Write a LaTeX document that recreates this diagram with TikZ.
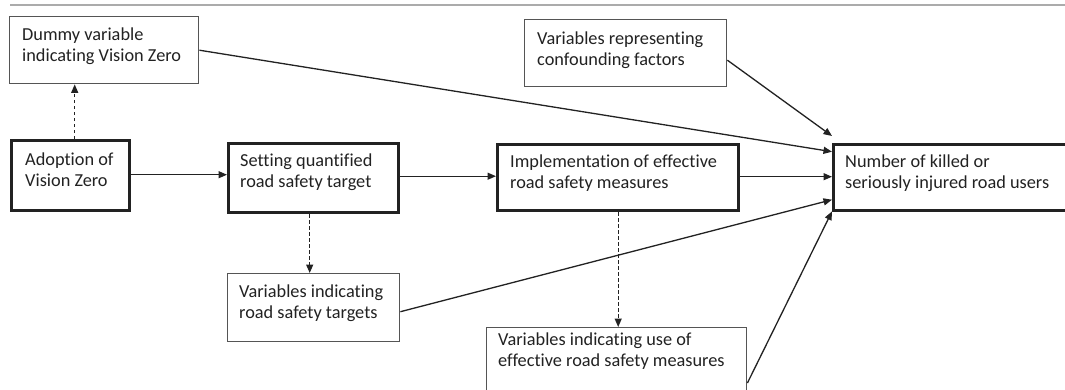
\documentclass[tikz,border=0pt]{standalone}
\usepackage{fontspec}
\setmainfont{Carlito}[Ligatures={NoCommon}]
\usetikzlibrary{arrows.meta,calc}
\definecolor{ink}{HTML}{222222}
\definecolor{thinline}{HTML}{555555}
\definecolor{rule}{HTML}{ABABAB}
\newcommand{\twolines}[2]{\vtop{\hbox{#1}\hbox{#2}}}
\tikzset{
  thinbox/.style={draw=thinline, line width=1.4pt, rectangle, inner sep=0pt, anchor=north west},
  thickbox/.style={draw=ink, line width=3.4pt, rectangle, inner sep=0pt, anchor=north west},
  lbl/.style={inner sep=0pt, anchor=base west, text=ink, font=\fontsize{18.3}{21.5}\selectfont},
  conn/.style={draw=ink, line width=1.3pt, -{Triangle[length=8.5pt,width=7pt]}},
  dconn/.style={conn, dash pattern=on 3.5pt off 2.5pt}
}
\begin{document}
\begin{tikzpicture}[x=1pt,y=-1pt]
\useasboundingbox (0,0) rectangle (1065,389);
\clip (0,0) rectangle (1065,389);
\fill[white] (0,0) rectangle (1065,389);
% top rule
\coordinate (ruleL) at (10,5);
\coordinate (ruleR) at (1070,5);
\draw[rule, line width=2pt] (ruleL) -- (ruleR);
% boxes
\node[thinbox, minimum width=189pt, minimum height=67pt] (dummy) at (9,16) {};
\node[thickbox, minimum width=118pt, minimum height=70pt] (adopt) at (10,139) {};
\node[thickbox, minimum width=170pt, minimum height=69pt] (setting) at (227,142) {};
\node[thickbox, minimum width=241pt, minimum height=66pt] (impl) at (496,143) {};
\node[thickbox, minimum width=260pt, minimum height=66pt] (number) at (832,143) {};
\node[thinbox, minimum width=202pt, minimum height=67pt] (confound) at (524,19) {};
\node[thinbox, minimum width=172pt, minimum height=68pt] (targets) at (227,273) {};
\node[thinbox, minimum width=260pt, minimum height=80pt] (use) at (486,327) {};
% labels
\node[lbl] (dummyT) at (22,40) {\twolines{Dummy variable}{indicating Vision Zero}};
\node[lbl] (adoptT) at (25,165) {\twolines{Adoption of}{Vision Zero}};
\node[lbl] (settingT) at (240,166) {\twolines{Setting quantified}{road safety target}};
\node[lbl] (implT) at (510,167) {\twolines{Implementation of effective}{road safety measures}};
\node[lbl] (numberT) at (845,167) {\twolines{Number of killed or}{seriously injured road users}};
\node[lbl] (confoundT) at (537,44) {\twolines{Variables representing}{confounding factors}};
\node[lbl] (targetsT) at (239,297) {\twolines{Variables indicating}{road safety targets}};
\node[lbl] (useT) at (498,345) {\twolines{Variables indicating use of}{effective road safety measures}};
% dashed arrows
\draw[dconn] ([xshift=4pt]adopt.north) -- ([xshift=4pt]adopt.north |- dummy.south);
\draw[dconn] ([xshift=-4pt]setting.south) -- ([xshift=-4pt]setting.south |- targets.north);
\draw[dconn] (impl.south) -- (impl.south |- use.north);
% solid arrows
\draw[conn] ([yshift=1pt]adopt.east) -- ([yshift=1pt]adopt.east -| setting.west);
\draw[conn] ([yshift=2pt]setting.east) -- ([yshift=2pt]setting.east -| impl.west);
\draw[conn] ([yshift=1pt]impl.east) -- ([yshift=1pt]impl.east -| number.west);
\draw[conn] (dummy.east) -- ([yshift=26pt]number.west);
\draw[conn] ([yshift=-7pt]confound.east) -- ([yshift=7pt]number.north west);
\draw[conn] ([yshift=-4pt]targets.east) -- ([yshift=-22pt]number.west);
\draw[conn] ([yshift=-56pt]use.north east) -- ([yshift=1pt]number.south west);
\end{tikzpicture}
\end{document}
